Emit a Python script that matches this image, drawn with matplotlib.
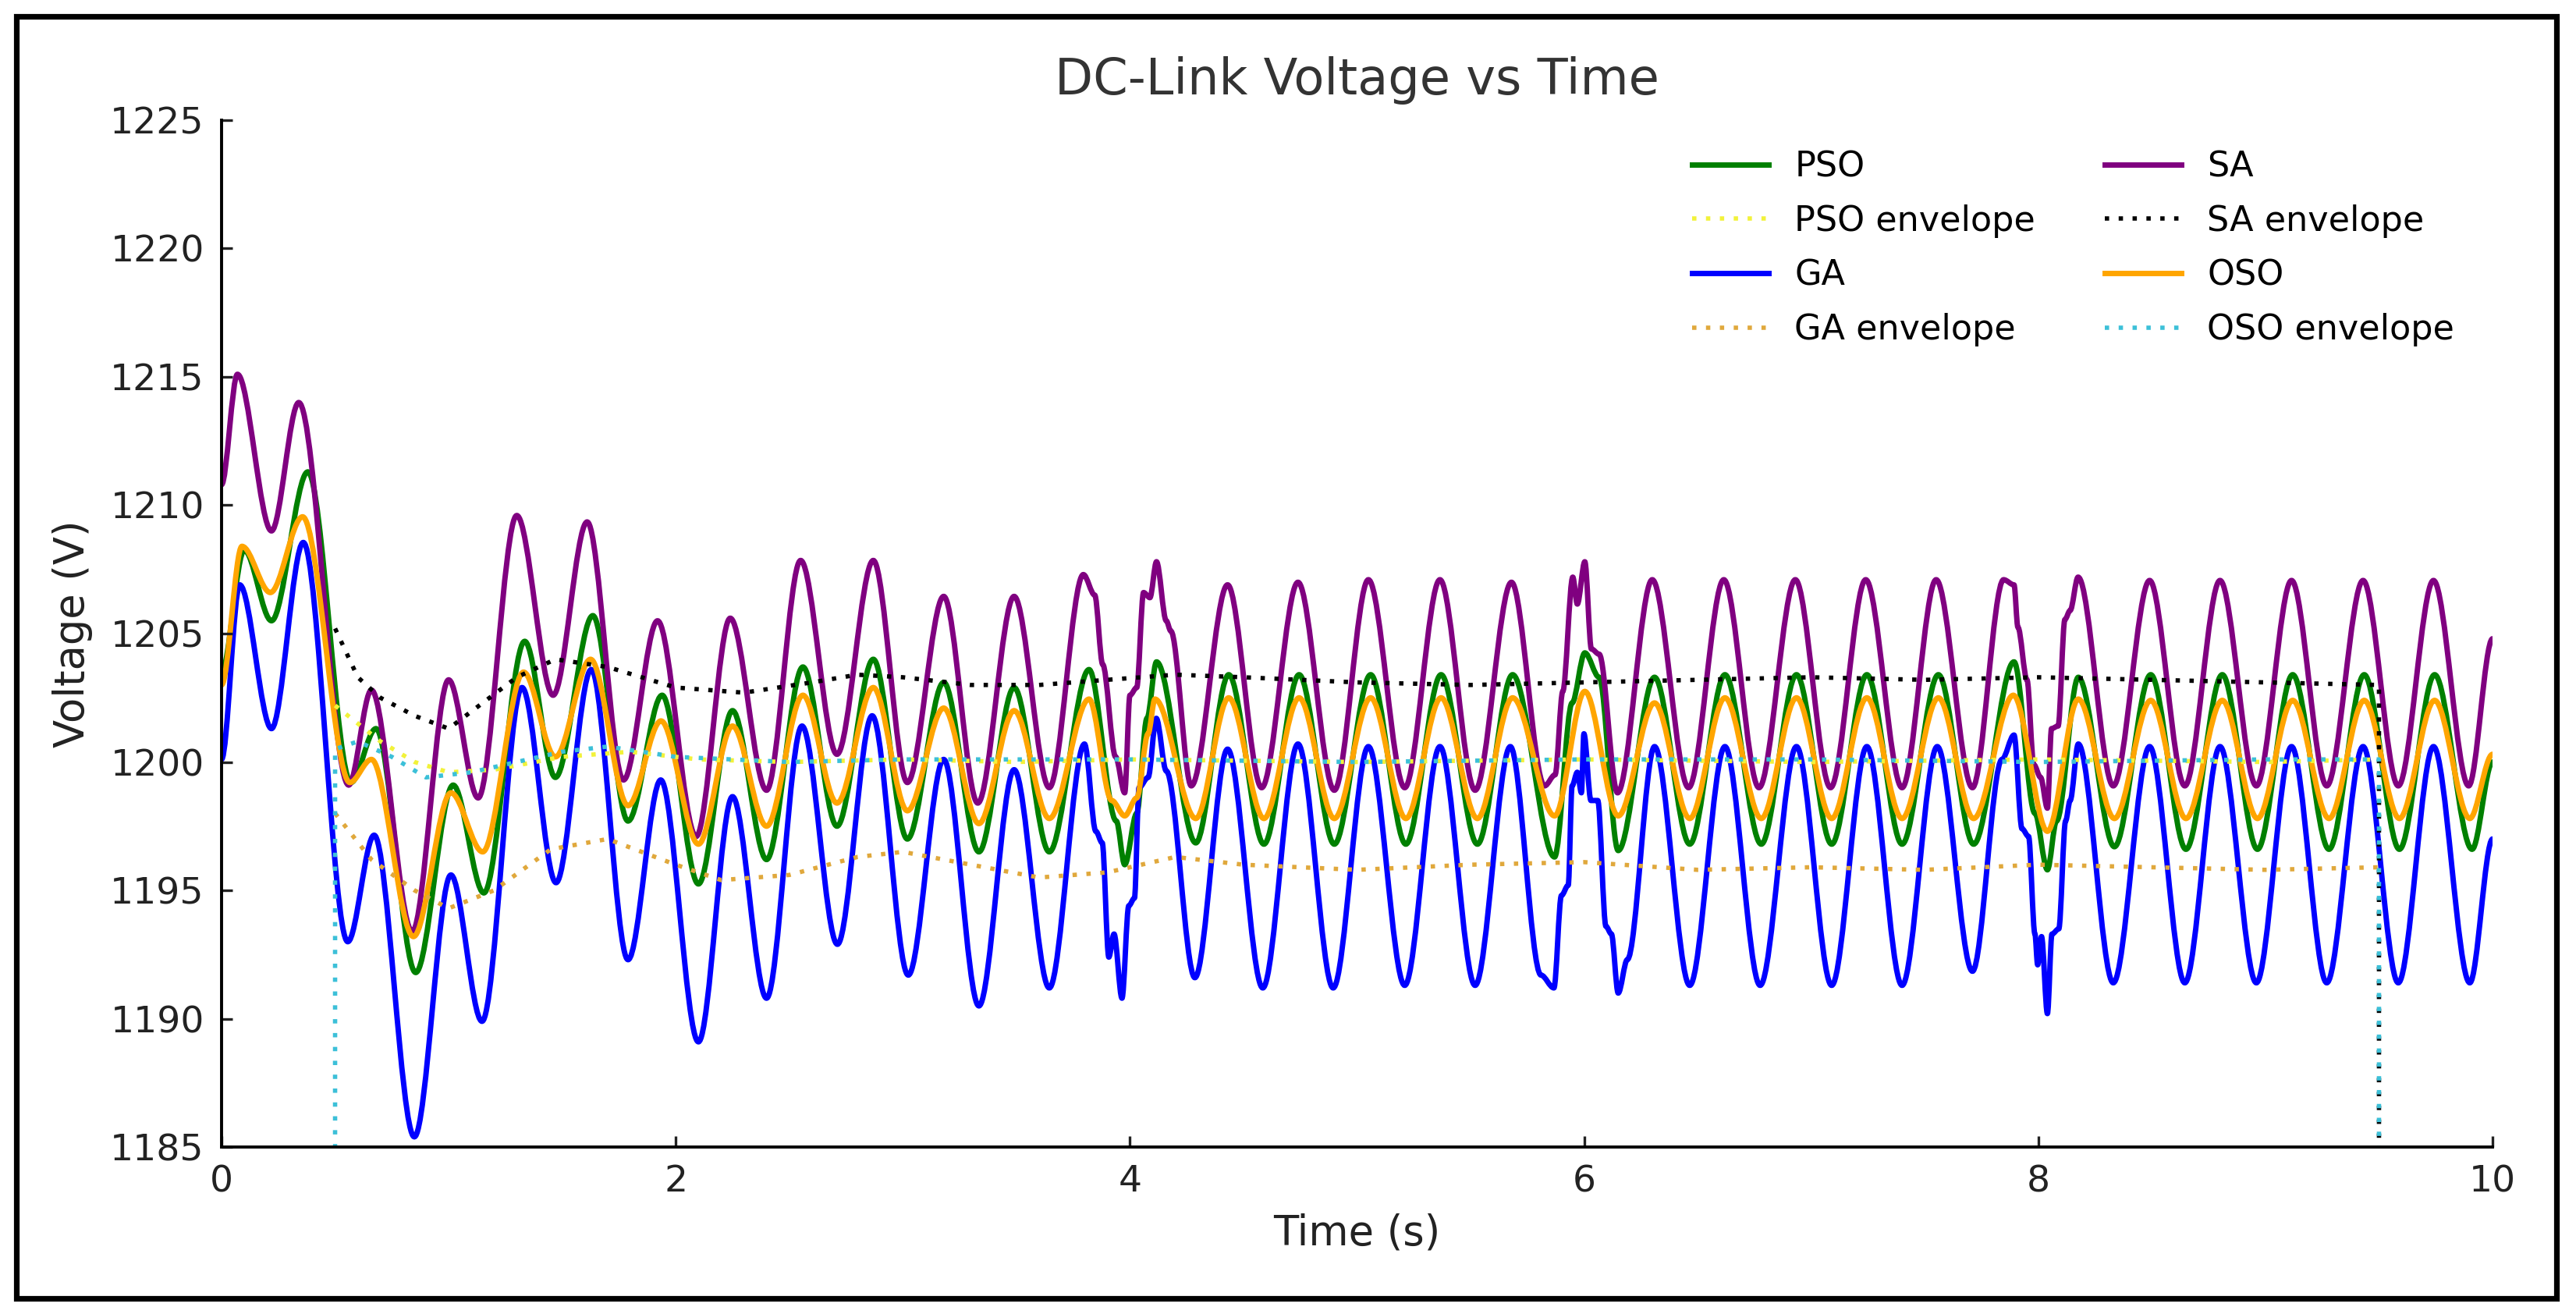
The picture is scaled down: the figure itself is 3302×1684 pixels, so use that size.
import numpy as np
import matplotlib
matplotlib.use("Agg")
import matplotlib.pyplot as plt
from matplotlib.path import Path
from matplotlib.patches import PathPatch, Rectangle
from matplotlib.lines import Line2D

# turning points (time s, voltage V)
pso_pts = [
    (0.00, 1203.5), (0.10, 1208.25), (0.22, 1205.5), (0.38, 1211.3), (0.57, 1199.2), (0.68, 1201.3),
    (0.855, 1191.8), (1.02, 1199.1), (1.155, 1194.9), (1.335, 1204.7), (1.47, 1199.4), (1.635, 1205.7),
    (1.79, 1197.7), (1.94, 1202.6), (2.10, 1195.25), (2.25, 1202.0), (2.40, 1196.2), (2.56, 1203.7),
    (2.71, 1197.5), (2.87, 1204.0), (3.02, 1197.0), (3.18, 1203.1), (3.335, 1196.5), (3.49, 1202.9),
    (3.645, 1196.5), (3.82, 1203.6), (3.94, 1197.7), (3.977, 1196.0), (4.03, 1198.0), (4.075, 1201.7),
    (4.117, 1203.9), (4.29, 1196.85), (4.435, 1203.4), (4.59, 1196.8), (4.745, 1203.4), (4.90, 1196.8),
    (5.06, 1203.4), (5.215, 1196.8), (5.37, 1203.4), (5.53, 1196.8), (5.685, 1203.4), (5.87, 1196.3),
    (5.947, 1202.3), (6.003, 1204.25), (6.066, 1203.3), (6.15, 1196.55), (6.31, 1203.3), (6.465, 1196.8),
    (6.62, 1203.4), (6.78, 1196.8), (6.935, 1203.4), (7.09, 1196.8), (7.245, 1203.4), (7.40, 1196.8),
    (7.56, 1203.4), (7.715, 1196.8), (7.893, 1203.9), (7.985, 1198.0), (8.04, 1195.8), (8.08, 1197.7),
    (8.176, 1203.3), (8.335, 1196.7), (8.495, 1203.4), (8.65, 1196.6), (8.81, 1203.4), (8.965, 1196.6),
    (9.12, 1203.4), (9.28, 1196.6), (9.435, 1203.4), (9.59, 1196.6), (9.745, 1203.4), (9.91, 1196.6),
    (10.0, 1200.0),
]

ga_pts = [
    (0.00, 1200.1), (0.08, 1206.9), (0.22, 1201.3), (0.36, 1208.55), (0.556, 1193.0), (0.672, 1197.15),
    (0.849, 1185.4), (1.01, 1195.6), (1.147, 1189.9), (1.323, 1202.9), (1.473, 1195.3), (1.628, 1203.6),
    (1.79, 1192.3), (1.934, 1199.3), (2.10, 1189.1), (2.25, 1198.65), (2.40, 1190.8), (2.556, 1201.4),
    (2.712, 1192.9), (2.865, 1201.8), (3.024, 1191.7), (3.18, 1200.1), (3.335, 1190.5), (3.49, 1199.7),
    (3.645, 1191.2), (3.80, 1200.7), (3.85, 1197.3), (3.878, 1196.85), (3.907, 1192.4), (3.93, 1193.3),
    (3.965, 1190.8), (3.995, 1194.4), (4.02, 1194.7), (4.04, 1199.0), (4.08, 1199.4), (4.116, 1201.7),
    (4.16, 1199.65), (4.286, 1191.6), (4.43, 1200.5), (4.585, 1191.2), (4.74, 1200.7), (4.895, 1191.2),
    (5.05, 1200.6), (5.21, 1191.3), (5.365, 1200.6), (5.52, 1191.3), (5.675, 1200.6), (5.81, 1191.7),
    (5.867, 1191.2), (5.90, 1194.8), (5.93, 1195.2), (5.947, 1199.07), (5.97, 1199.6), (5.988, 1198.8),
    (5.999, 1201.1), (6.03, 1198.5), (6.06, 1198.5), (6.096, 1193.6), (6.12, 1193.3), (6.15, 1191.0),
    (6.19, 1192.3), (6.31, 1200.6), (6.465, 1191.3), (6.62, 1200.6), (6.775, 1191.3), (6.935, 1200.6),
    (7.09, 1191.3), (7.245, 1200.6), (7.40, 1191.3), (7.555, 1200.6), (7.71, 1191.85), (7.84, 1200.1),
    (7.893, 1201.05), (7.928, 1197.4), (7.957, 1197.1), (7.985, 1193.3), (7.997, 1192.1), (8.014, 1193.2),
    (8.04, 1190.2), (8.06, 1193.3), (8.09, 1193.5), (8.12, 1197.7), (8.14, 1198.5), (8.176, 1200.7),
    (8.33, 1191.4), (8.49, 1200.6), (8.645, 1191.4), (8.80, 1200.6), (8.96, 1191.4), (9.115, 1200.6),
    (9.27, 1191.4), (9.43, 1200.6), (9.585, 1191.4), (9.74, 1200.6), (9.90, 1191.4), (10.0, 1197.0),
]

sa_pts = [
    (0.00, 1210.8), (0.07, 1215.1), (0.22, 1209.0), (0.34, 1214.0), (0.56, 1199.1), (0.66, 1202.8),
    (0.84, 1193.4), (1.00, 1203.2), (1.13, 1198.6), (1.30, 1209.6), (1.46, 1202.6), (1.61, 1209.35),
    (1.77, 1199.3), (1.92, 1205.5), (2.09, 1197.1), (2.24, 1205.6), (2.40, 1198.9), (2.55, 1207.85),
    (2.71, 1200.3), (2.87, 1207.85), (3.02, 1199.2), (3.18, 1206.45), (3.33, 1198.4), (3.49, 1206.45),
    (3.645, 1199.0), (3.795, 1207.3), (3.845, 1206.5), (3.88, 1203.8), (3.937, 1200.2), (3.977, 1198.8),
    (4.00, 1202.6), (4.03, 1202.9), (4.06, 1206.6), (4.088, 1206.4), (4.117, 1207.8), (4.16, 1205.5),
    (4.18, 1205.1), (4.27, 1199.07), (4.43, 1206.9), (4.58, 1199.0), (4.74, 1207.0), (4.90, 1198.9),
    (5.05, 1207.1), (5.21, 1199.0), (5.365, 1207.1), (5.52, 1198.9), (5.68, 1207.0), (5.826, 1199.07),
    (5.872, 1199.5), (5.906, 1202.75), (5.95, 1207.2), (5.97, 1206.15), (6.003, 1207.8), (6.032, 1204.4),
    (6.066, 1204.2), (6.147, 1198.8), (6.30, 1207.1), (6.46, 1199.0), (6.615, 1207.1), (6.77, 1199.0),
    (6.93, 1207.1), (7.085, 1199.0), (7.24, 1207.1), (7.40, 1199.0), (7.55, 1207.1), (7.71, 1199.0),
    (7.847, 1207.1), (7.893, 1206.9), (7.91, 1205.25), (7.95, 1203.2), (7.98, 1199.9), (8.01, 1199.4),
    (8.04, 1198.2), (8.058, 1201.3), (8.087, 1201.4), (8.117, 1205.55), (8.14, 1205.9), (8.175, 1207.2),
    (8.33, 1199.07), (8.49, 1207.07), (8.645, 1199.07), (8.80, 1207.07), (8.96, 1199.07), (9.115, 1207.07),
    (9.27, 1199.07), (9.43, 1207.07), (9.585, 1199.07), (9.74, 1207.07), (9.895, 1199.07), (10.0, 1204.8),
]

oso_pts = [
    (0.00, 1203.0), (0.09, 1208.4), (0.215, 1206.6), (0.357, 1209.55), (0.565, 1199.2), (0.66, 1200.1),
    (0.845, 1193.2), (1.01, 1198.8), (1.15, 1196.5), (1.33, 1203.5), (1.47, 1200.2), (1.625, 1204.0),
    (1.79, 1198.3), (1.935, 1201.6), (2.10, 1196.8), (2.25, 1201.4), (2.40, 1197.5), (2.56, 1202.6),
    (2.71, 1198.4), (2.87, 1202.9), (3.02, 1198.1), (3.18, 1202.1), (3.335, 1197.6), (3.49, 1202.0),
    (3.645, 1197.8), (3.82, 1202.45), (3.92, 1198.5), (3.977, 1197.9), (4.03, 1198.6), (4.08, 1201.1),
    (4.11, 1202.45), (4.29, 1197.8), (4.435, 1202.5), (4.59, 1197.8), (4.745, 1202.5), (4.90, 1197.8),
    (5.06, 1202.5), (5.215, 1197.8), (5.37, 1202.5), (5.53, 1197.8), (5.685, 1202.5), (5.87, 1197.9),
    (6.003, 1202.75), (6.15, 1197.9), (6.31, 1202.3), (6.465, 1197.8), (6.62, 1202.5), (6.78, 1197.8),
    (6.935, 1202.5), (7.09, 1197.8), (7.245, 1202.5), (7.40, 1197.8), (7.56, 1202.5), (7.715, 1197.8),
    (7.89, 1202.6), (8.04, 1197.3), (8.176, 1202.45), (8.335, 1197.8), (8.495, 1202.4), (8.65, 1197.8),
    (8.81, 1202.4), (8.965, 1197.8), (9.12, 1202.4), (9.28, 1197.8), (9.435, 1202.4), (9.59, 1197.8),
    (9.745, 1202.4), (9.90, 1197.8), (10.0, 1200.3),
]

# moving-average envelopes (1170 = value that falls off the bottom of the axes)
pso_env = [
    (0.50, 1202.2), (0.60, 1201.5), (0.70, 1200.8), (0.85, 1200.0), (1.00, 1199.6), (1.20, 1199.7),
    (1.50, 1200.2), (1.80, 1200.4), (2.10, 1200.1), (2.50, 1200.0), (3.00, 1200.1), (3.50, 1200.0),
    (4.00, 1200.1), (5.00, 1200.0), (6.00, 1200.1), (7.00, 1200.0), (8.00, 1200.1), (9.00, 1200.0),
    (9.50, 1200.1),
]
ga_env = [
    (0.50, 1198.0), (0.66, 1196.2), (0.85, 1195.0), (1.00, 1194.3), (1.20, 1195.0), (1.45, 1196.6),
    (1.70, 1197.0), (2.00, 1196.0), (2.20, 1195.4), (2.50, 1195.6), (2.80, 1196.3), (3.00, 1196.5),
    (3.30, 1196.0), (3.60, 1195.5), (3.90, 1195.7), (4.20, 1196.3), (4.50, 1196.0), (5.00, 1195.8),
    (5.50, 1196.0), (6.00, 1196.1), (6.50, 1195.8), (7.00, 1195.9), (7.50, 1195.8), (8.00, 1196.0),
    (8.50, 1195.9), (9.00, 1195.8), (9.50, 1195.9),
]
sa_env = [
    (0.50, 1205.2), (0.60, 1203.3), (0.70, 1202.5), (0.85, 1201.8), (1.00, 1201.3), (1.15, 1202.3),
    (1.30, 1203.3), (1.47, 1204.0), (1.70, 1203.7), (2.00, 1202.9), (2.30, 1202.7), (2.60, 1203.1),
    (2.80, 1203.4), (3.00, 1203.3), (3.30, 1203.0), (3.60, 1203.0), (3.90, 1203.2), (4.20, 1203.4),
    (4.50, 1203.3), (5.00, 1203.1), (5.50, 1203.0), (6.00, 1203.1), (6.50, 1203.2), (7.00, 1203.3),
    (7.50, 1203.2), (8.00, 1203.3), (8.50, 1203.2), (9.00, 1203.1), (9.50, 1203.0), (9.50, 1170.0),
]
oso_env = [
    (0.50, 1170.0), (0.50, 1200.5), (0.60, 1200.8), (0.75, 1200.2), (0.90, 1199.4), (1.10, 1199.6),
    (1.30, 1200.0), (1.50, 1200.4), (1.70, 1200.6), (2.00, 1200.2), (2.50, 1200.0), (3.00, 1200.1),
    (4.00, 1200.1), (5.00, 1200.0), (6.00, 1200.1), (7.00, 1200.1), (8.00, 1200.0), (9.00, 1200.1),
    (9.50, 1200.1), (9.50, 1170.0),
]

x_ticks = [0, 2, 4, 6, 8, 10]
y_ticks = [1185, 1190, 1195, 1200, 1205, 1210, 1215, 1220, 1225]


def smooth(pts):
    # cubic pieces with flat tangents at every read point
    p = np.array(pts)
    verts = [tuple(p[0])]
    codes = [Path.MOVETO]
    for (t0, v0), (t1, v1) in zip(p[:-1], p[1:]):
        d = (t1 - t0) / 3
        verts += [(t0 + d, v0), (t1 - d, v1), (t1, v1)]
        codes += [Path.CURVE4] * 3
    return Path(verts, codes)


fig = plt.figure(figsize=(16.51, 8.42), dpi=200)
ax = fig.add_axes([0.086, 0.127, 0.8816, 0.7816])

lw = 2.5
dot = (0, (1, 2.2))
series = [
    ("PSO", pso_pts, "green", "PSO envelope", pso_env, "#f2f23a"),
    ("GA", ga_pts, "blue", "GA envelope", ga_env, "#e0a83c"),
    ("SA", sa_pts, "purple", "SA envelope", sa_env, "black"),
    ("OSO", oso_pts, "orange", "OSO envelope", oso_env, "#3cc0d8"),
]
handles = []
for name, pts, col, ename, env, ecol in series:
    ax.add_patch(PathPatch(smooth(pts), facecolor="none", edgecolor=col, lw=lw,
                           joinstyle="round", capstyle="round"))
    e = np.array(env)
    ax.plot(e[:, 0], e[:, 1], color=ecol, lw=2.0, linestyle=dot)
    handles.append(Line2D([], [], color=col, lw=lw, label=name))
    handles.append(Line2D([], [], color=ecol, lw=2.0, linestyle=dot, label=ename))

ax.set_xlim(0, 10)
ax.set_ylim(1185, 1225)
ax.set_xticks(x_ticks)
ax.set_yticks(y_ticks)
ax.spines["top"].set_visible(False)
ax.spines["right"].set_visible(False)
for s in ("left", "bottom"):
    ax.spines[s].set_linewidth(1.4)
ax.tick_params(direction="in", length=5, width=1.2, labelsize=17, colors="#222222", pad=8)

ax.set_title("DC-Link Voltage vs Time", fontsize=23, color="#333333", pad=12)
ax.set_xlabel("Time (s)", fontsize=19, color="#222222", labelpad=6)
ax.set_ylabel("Voltage (V)", fontsize=19, color="#222222", labelpad=8)

ax.legend(handles=handles, ncol=2, loc="upper left", bbox_to_anchor=(0.6476, 0.971),
          frameon=False, fontsize=16, handlelength=2.2, handletextpad=0.75,
          columnspacing=2.0, labelspacing=0.6, borderpad=0, borderaxespad=0)

fig.patches.append(Rectangle((0.0064, 0.0119), 0.986, 0.9756, transform=fig.transFigure,
                             fill=False, edgecolor="black", lw=2.6))

fig.savefig("out.png", dpi=200, facecolor="white")
